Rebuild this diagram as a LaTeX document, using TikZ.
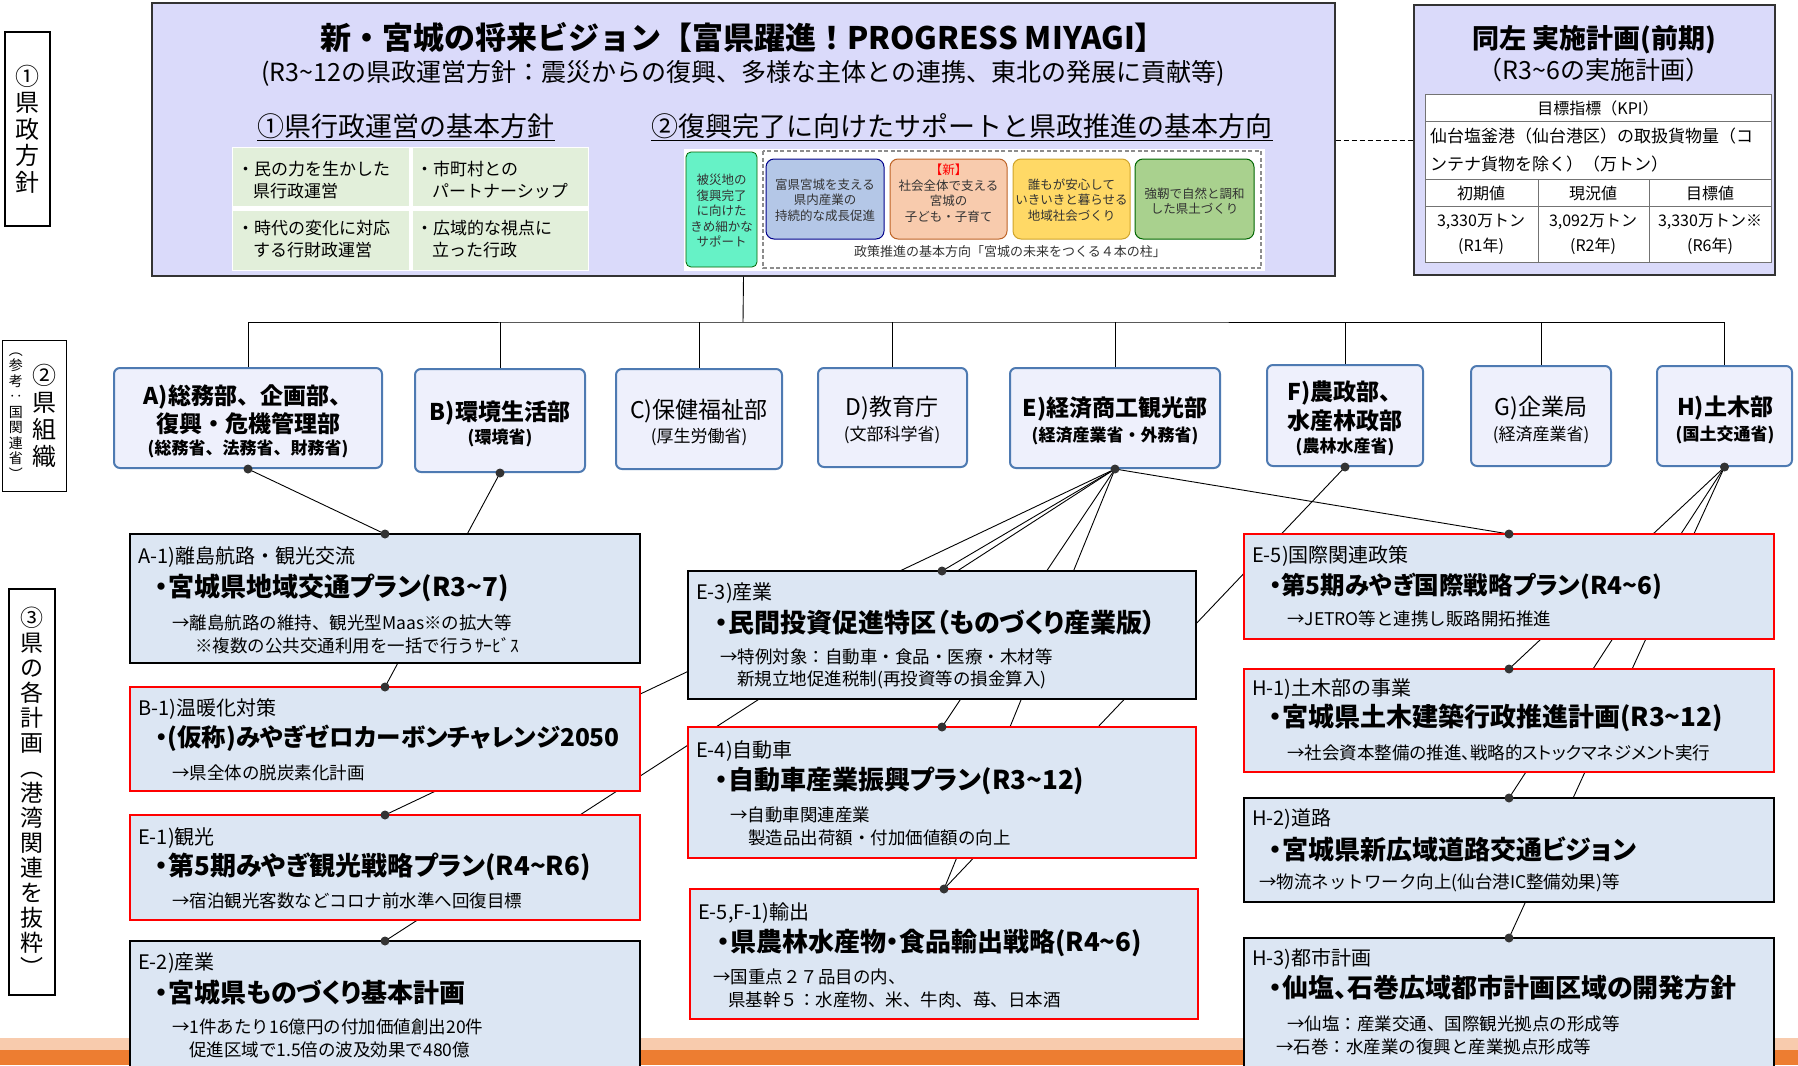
\documentclass[tikz,border=0pt]{standalone}
\usepackage{fontspec}
\setmainfont{Noto Sans CJK JP}
\newfontfamily\pfont{Noto Sans CJK JP}[RawFeature=+palt]
\usetikzlibrary{calc}
\definecolor{mainf}{HTML}{DADAFA}
\definecolor{pbf}{HTML}{DCE6F3}
\definecolor{orgf}{HTML}{EEF0FC}
\definecolor{orgb}{HTML}{4E7AB2}
\definecolor{peach}{HTML}{F8CBAD}
\definecolor{orng}{HTML}{ED7D31}
\definecolor{cellg}{HTML}{E2EFDA}
\definecolor{teal}{HTML}{66F2C6}
\definecolor{pblue}{HTML}{B4C7E7}
\definecolor{porange}{HTML}{F8CBAD}
\definecolor{pyellow}{HTML}{FFD966}
\definecolor{pgreen}{HTML}{A9D18E}
\definecolor{txtg}{HTML}{333333}
\newcommand\tld{\char126\relax}
\newcommand\pbox[6]{\node[#1, minimum width={#4-#2}, minimum height={#5-#3}] (#6) at ({(#2+#4)/2},{(#3+#5)/2}) {};}
\tikzset{
  planbox/.style={draw=black, line width=1.3, fill=pbf, inner sep=0, rectangle},
  redbox/.style={planbox, draw=red},
  orgbox/.style={draw=orgb, line width=2, fill=orgf, rounded corners=6, inner sep=0, rectangle},
  lblbox/.style={draw=black, line width=1.2, fill=white, inner sep=0, rectangle},
  hdr/.style={anchor=west, font=\fontsize{20}{24}\selectfont, inner sep=0},
  ttl/.style={anchor=west, font=\pfont\fontsize{26}{30}\selectfont\bfseries, inner sep=0},
  ttls/.style={anchor=west, font=\pfont\fontsize{24.5}{30}\selectfont\bfseries, inner sep=0},
  det/.style={anchor=west, font=\fontsize{17.5}{21}\selectfont, inner sep=0},
  detp/.style={anchor=west, font=\pfont\fontsize{17.5}{21}\selectfont, inner sep=0},
  orgt/.style={font=\fontsize{23}{27}\selectfont\bfseries, inner sep=0},
  orgs/.style={font=\fontsize{17}{20}\selectfont\bfseries, inner sep=0},
  orgtr/.style={font=\fontsize{23}{27}\selectfont, inner sep=0},
  orgsr/.style={font=\fontsize{17}{20}\selectfont, inner sep=0},
  cellt/.style={anchor=west, font=\fontsize{17}{20}\selectfont, inner sep=0},
  pil/.style={font=\fontsize{12.5}{15.5}\selectfont, text=txtg, align=center, inner sep=0},
  conn/.style={line width=0.9, black},
  jdot/.style={fill=black!80},
  tbl/.style={line width=0.8, black!55},
  tblt/.style={font=\fontsize{16}{19}\selectfont, inner sep=0},
}
\begin{document}
\begin{tikzpicture}[x=1pt,y=-1pt]
\useasboundingbox (0,0) rectangle (1798,1065);
\clip (0,0) rectangle (1798,1065);
\fill[white] (0,0) rectangle (1798,1065);
% bottom band
\fill[peach] (0,1038) rectangle (1798,1050);
\fill[orng] (0,1050) rectangle (1798,1065);

% ---------- left labels ----------
\node[lblbox, minimum width=45, minimum height=194, align=center,
      font=\fontsize{24}{26.5}\selectfont] (l1) at (27.5,129) {①\\県\\政\\方\\針};
\node[lblbox, minimum width=64, minimum height=151] (l2) at (34.5,416) {};
\node[align=center, font=\fontsize{24}{27}\selectfont, inner sep=0] at (44,416) {②\\県\\組\\織};
\node[align=center, font=\fontsize{14}{15.5}\selectfont, inner sep=0] at (16,416) {︵\\参\\考\\‥\\国\\関\\連\\省\\︶};
\node[lblbox, minimum width=46, minimum height=406, align=center,
      font=\fontsize{23}{25}\selectfont] (l3) at (32,792) {③\\県\\の\\各\\計\\画\\︵\\港\\湾\\関\\連\\を\\抜\\粋\\︶};

% ---------- main vision box ----------
\pbox{draw=black!80, line width=1.3, fill=mainf, inner sep=0, rectangle}{152}{3}{1335}{276}{vision}
\node[font=\fontsize{31}{36}\selectfont\bfseries, inner sep=0] (vt) at (743,38)
  {新・宮城の将来ビジョン【富県躍進！PROGRESS MIYAGI】};
\node[font=\fontsize{25}{30}\selectfont, inner sep=0] (vs) at (743,73)
  {(R3\tld12の県政運営方針：震災からの復興、多様な主体との連携、東北の発展に貢献等)};
\node[font=\fontsize{27}{32}\selectfont, inner sep=0] (h1) at (406,126) {①県行政運営の基本方針};
\draw[line width=1.3] ($(h1.south west)+(0,2)$) -- ($(h1.south east)+(0,2)$);
\node[font=\fontsize{27}{32}\selectfont, inner sep=0] (h2) at (962,126) {②復興完了に向けたサポートと県政推進の基本方向};
\draw[line width=1.3] ($(h2.south west)+(0,2)$) -- ($(h2.south east)+(0,2)$);

% green grid
\fill[white] (232,147) rectangle (589,271);
\fill[cellg] (233,148) rectangle (409,206);
\fill[cellg] (413,148) rectangle (588,206);
\fill[cellg] (233,211) rectangle (409,270);
\fill[cellg] (413,211) rectangle (588,270);
\node[cellt] at (237,169) {・民の力を生かした};
\node[cellt] at (253,191) {県行政運営};
\node[cellt] at (416,169) {・市町村との};
\node[cellt] at (432,191) {パートナーシップ};
\node[cellt] at (237,228) {・時代の変化に対応};
\node[cellt] at (253,250) {する行財政運営};
\node[cellt] at (416,228) {・広域的な視点に};
\node[cellt] at (432,250) {立った行政};

% pillars graphic
\fill[white] (684,149) rectangle (1265,271);
\draw[draw=black!60!green, line width=0.8, fill=teal, rounded corners=5] (686,152) rectangle (757,267);
\node[pil] at (721.5,211) {被災地の\\復興完了\\に向けた\\きめ細かな\\サポート};
\draw[black!45, dash pattern=on 4pt off 2.5pt, line width=1.1] (763,151) rectangle (1261,268);
\draw[draw=black!45!blue, line width=1, fill=pblue, rounded corners=8] (766,159) rectangle (884,239);
\node[pil] at (825,200) {富県宮城を支える\\県内産業の\\持続的な成長促進};
\draw[draw=orng!80!black, line width=1, fill=porange, rounded corners=8] (890,159) rectangle (1007,239);
\node[pil] at (948.5,193) {\textcolor{red}{【新】}\\社会全体で支える\\宮城の\\子ども・子育て};
\draw[draw=yellow!50!orange!80!black, line width=1, fill=pyellow, rounded corners=8] (1013,159) rectangle (1130,239);
\node[pil] at (1071.5,200) {誰もが安心して\\いきいきと暮らせる\\地域社会づくり};
\draw[draw=green!40!black, line width=1, fill=pgreen, rounded corners=8] (1135,159) rectangle (1254,239);
\node[pil] at (1194.5,201) {強靭で自然と調和\\した県土づくり};
\node[pil, font=\fontsize{13}{15}\selectfont] at (1010,252) {政策推進の基本方向「宮城の未来をつくる４本の柱」};

% ---------- right plan box ----------
\pbox{draw=black!80, line width=1.3, fill=mainf, inner sep=0, rectangle}{1414}{5}{1775}{275}{impl}
\node[font=\fontsize{27}{32}\selectfont\bfseries, inner sep=0] at (1594,40) {同左 実施計画(前期)};
\node[font=\fontsize{25}{30}\selectfont, inner sep=0] at (1594,70) {（R3\tld6の実施計画）};
\fill[white] (1425,94) rectangle (1771,262);
\draw[tbl] (1425,94) rectangle (1771,262);
\draw[tbl] (1425,121) -- (1771,121);
\draw[tbl] (1425,179) -- (1771,179);
\draw[tbl] (1425,206) -- (1771,206);
\draw[tbl] (1538,179) -- (1538,262);
\draw[tbl] (1649,179) -- (1649,262);
\node[tblt] at (1598,108) {目標指標（KPI）};
\node[tblt, anchor=west, font=\fontsize{17}{20}\selectfont] at (1430,136) {仙台塩釜港（仙台港区）の取扱貨物量（コ};
\node[tblt, anchor=west, font=\fontsize{17}{20}\selectfont] at (1430,164) {ンテナ貨物を除く）（万トン）};
\node[tblt] at (1481,193) {初期値};
\node[tblt] at (1593,193) {現況値};
\node[tblt] at (1710,193) {目標値};
\node[tblt] at (1481,222) {3,330万トン};
\node[tblt] at (1593,222) {3,092万トン};
\node[tblt] at (1710,222) {3,330万トン※};
\node[tblt] at (1481,246) {(R1年)};
\node[tblt] at (1593,246) {(R2年)};
\node[tblt] at (1710,246) {(R6年)};
\draw[dash pattern=on 5pt off 3pt, line width=1] (vision.east |- impl.west) -- (impl.west);

% ---------- org boxes ----------
\pbox{orgbox}{114}{368}{382}{468}{orgA}
\pbox{orgbox}{415}{369}{585}{472}{orgB}
\pbox{orgbox}{616}{369}{782}{469}{orgC}
\pbox{orgbox}{818}{368}{967}{467}{orgD}
\pbox{orgbox}{1010}{368}{1220}{468}{orgE}
\pbox{orgbox}{1267}{365}{1423}{466}{orgF}
\pbox{orgbox}{1471}{366}{1611}{466}{orgG}
\pbox{orgbox}{1657}{366}{1792}{466}{orgH}
\coordinate (bus) at (743,322);
\draw[conn] (vision.south) -- (bus);
\draw[conn] (orgA.north) |- (bus) -| (orgH.north);
\foreach \o in {orgB,orgC,orgD,orgE,orgF,orgG}{\draw[conn] (\o.north) -- (\o.north |- bus);}

\node[orgt] at (248,397) {A)総務部、企画部、};
\node[orgt] at (248,424) {復興・危機管理部};
\node[orgs] at (248,449) {(総務省、法務省、財務省)};
\node[orgt] at (500,413) {B)環境生活部};
\node[orgs] at (500,438) {(環境省)};
\node[orgtr] at (699,411) {C)保健福祉部};
\node[orgsr] at (699,437) {(厚生労働省)};
\node[orgtr] at (892,408) {D)教育庁};
\node[orgsr] at (892,435) {(文部科学省)};
\node[orgt] at (1115,409) {E)経済商工観光部};
\node[orgs] at (1115,436) {(経済産業省・外務省)};
\node[orgt] at (1345,393) {F)農政部、};
\node[orgt] at (1345,421) {水産林政部};
\node[orgs] at (1345,447) {(農林水産省)};
\node[orgtr] at (1541,408) {G)企業局};
\node[orgsr] at (1541,435) {(経済産業省)};
\node[orgt] at (1725,408) {H)土木部};
\node[orgs] at (1725,435) {(国土交通省)};

% ---------- plan boxes: connector ends ----------
\coordinate (a1n) at (385,534);
\coordinate (b1n) at (385,687);
\coordinate (e1n) at (385,815);
\coordinate (e2n) at (385,941);
\coordinate (e3n) at (942,571);
\coordinate (e4n) at (942,727);
\coordinate (e51n) at (944,889);
\coordinate (e5n) at (1509,534);
\coordinate (h1n) at (1509,669);
\coordinate (h2n) at (1509,798);
\coordinate (h3n) at (1509,938);

% connectors (behind boxes)
\draw[conn] (orgA.south) -- (a1n);
\draw[conn] (orgB.south) -- (b1n);
\foreach \t in {e1n,e2n,e3n,e4n,e51n,e5n}{\draw[conn] (orgE.south) -- (\t);}
\draw[conn] (orgF.south) -- (e51n);
\foreach \t in {h1n,h2n,h3n}{\draw[conn] (orgH.south) -- (\t);}

\pbox{planbox}{130}{534}{640}{663}{a1}
\pbox{redbox}{130}{687}{640}{791}{b1}
\pbox{redbox}{130}{815}{640}{920}{e1}
\pbox{planbox}{130}{941}{640}{1090}{e2}
\pbox{planbox}{688}{571}{1196}{699}{e3}
\pbox{redbox}{688}{727}{1196}{858}{e4}
\pbox{redbox}{690}{889}{1198}{1019}{e51}
\pbox{redbox}{1244}{534}{1774}{639}{e5}
\pbox{redbox}{1244}{669}{1774}{772}{h1}
\pbox{planbox}{1244}{798}{1774}{902}{h2}
\pbox{planbox}{1244}{938}{1774}{1090}{h3}

% dots
\foreach \p in {orgA.south,orgB.south,orgE.south,orgF.south,orgH.south,a1n,b1n,e1n,e2n,e3n,e4n,e51n,e5n,h1n,h2n,h3n}{\fill[jdot] (\p) circle (4.5);}

% plan texts
\node[hdr] at (138,557) {A-1)離島航路・観光交流};
\node[ttl] at (155,588) {・宮城県地域交通プラン(R3\tld7)};
\node[det] at (172,623) {→離島航路の維持、観光型Maas※の拡大等};
\node[det] at (195,646) {※複数の公共交通利用を一括で行うｻｰﾋﾞｽ};

\node[hdr] at (138,709) {B-1)温暖化対策};
\node[ttls] at (155,738) {・(仮称)みやぎゼロカーボンチャレンジ2050};
\node[det] at (172,773) {→県全体の脱炭素化計画};

\node[hdr] at (138,838) {E-1)観光};
\node[ttl] at (155,867) {・第5期みやぎ観光戦略プラン(R4\tld R6)};
\node[det] at (172,901) {→宿泊観光客数などコロナ前水準へ回復目標};

\node[hdr] at (138,963) {E-2)産業};
\node[ttl] at (155,993) {・宮城県ものづくり基本計画};
\node[det] at (172,1027) {→1件あたり16億円の付加価値創出20件};
\node[det] at (189,1050) {促進区域で1.5倍の波及効果で480億};

\node[hdr] at (696,593) {E-3)産業};
\node[ttl] at (715,623) {・民間投資促進特区（ものづくり産業版）};
\node[det] at (720,657) {→特例対象：自動車・食品・医療・木材等};
\node[det] at (737,680) {新規立地促進税制(再投資等の損金算入)};

\node[hdr] at (696,751) {E-4)自動車};
\node[ttl] at (715,781) {・自動車産業振興プラン(R3\tld12)};
\node[det] at (730,815) {→自動車関連産業};
\node[det] at (748,838) {製造品出荷額・付加価値額の向上};

\node[hdr] at (698,913) {E-5,F-1)輸出};
\node[ttl] at (717,943) {・県農林水産物・食品輸出戦略(R4\tld6)};
\node[det] at (713,977) {→国重点２７品目の内、};
\node[det] at (728,1000) {県基幹５：水産物、米、牛肉、苺、日本酒};

\node[hdr] at (1252,556) {E-5)国際関連政策};
\node[ttls] at (1269,586) {・第5期みやぎ国際戦略プラン(R4\tld6)};
\node[det] at (1287,619) {→JETRO等と連携し販路開拓推進};

\node[hdr] at (1252,689) {H-1)土木部の事業};
\node[ttl] at (1269,718) {・宮城県土木建築行政推進計画(R3\tld12)};
\node[detp] at (1287,753) {→社会資本整備の推進、戦略的ストックマネジメント実行};

\node[hdr] at (1252,819) {H-2)道路};
\node[ttl] at (1269,849) {・宮城県新広域道路交通ビジョン};
\node[det] at (1259,883) {→物流ネットワーク向上(仙台港IC整備効果)等};

\node[hdr] at (1252,959) {H-3)都市計画};
\node[ttl] at (1269,988) {・仙塩、石巻広域都市計画区域の開発方針};
\node[det] at (1287,1024) {→仙塩：産業交通、国際観光拠点の形成等};
\node[det] at (1276,1047) {→石巻：水産業の復興と産業拠点形成等};
\end{tikzpicture}
\end{document}
